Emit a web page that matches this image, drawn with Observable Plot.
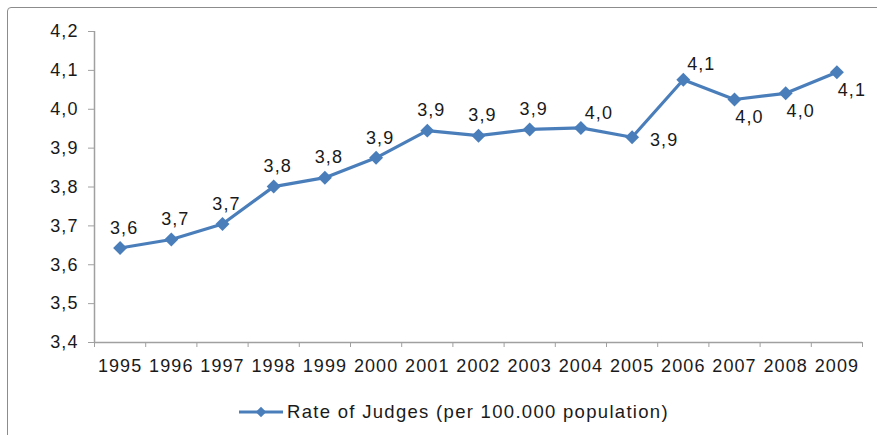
<!DOCTYPE html>
<html>
<head>
<meta charset="utf-8">
<script src="https://cdn.jsdelivr.net/npm/d3@7"></script>
<script src="https://cdn.jsdelivr.net/npm/@observablehq/plot@0.6"></script>
<style>
  html, body { margin: 0; padding: 0; background: #fff; }
  body { width: 877px; height: 435px; position: relative; overflow: hidden;
         font-family: "Liberation Sans", Arial, sans-serif; }
  #frame { position: absolute; left: 7px; top: 7px; width: 900px; height: 460px;
           border: 1.5px solid #8c8c8c; border-radius: 4px; box-sizing: border-box; }
  #chart { position: absolute; left: 0; top: 0; }
  #chart svg text { letter-spacing: 1.1px; }
  #legend { position: absolute; left: 238px; top: 401px; display: flex; align-items: center;
            font-size: 18.5px; letter-spacing: 1.3px; color: #1a1a1a; }
  #legend svg { margin-right: 3px; }
</style>
</head>
<body>
<div id="frame"></div>
<div id="chart"></div>
<div id="legend"></div>
<script>
// Rate of judges per 100.000 inhabitants, 1995–2009
const years = [1995, 1996, 1997, 1998, 1999, 2000, 2001, 2002, 2003, 2004, 2005, 2006, 2007, 2008, 2009];
const rates = [3.643, 3.665, 3.705, 3.801, 3.824, 3.875, 3.945, 3.932, 3.948, 3.952, 3.928, 4.076, 4.025, 4.041, 4.095];
const yTicks = [3.4, 3.5, 3.6, 3.7, 3.8, 3.9, 4.0, 4.1, 4.2];
const seriesName = "Rate of Judges (per 100.000 population)";

const blue = "#4a7ebb";
const axisGray = "#a0a0a0";

// Decimal comma, as in the source publication
const locale = d3.formatLocale({decimal: ",", thousands: ".", grouping: [3], currency: ["", ""]});
const fmt = locale.format(".1f");

const data = years.map((year, i) => ({year, rate: rates[i]}));

// Label placement: above the marker on the rising part, shifted right / below near the end
function placement(year) {
  if (year === 2005) return {dx: 32, dy: 3};
  if (year === 2004 || year === 2006) return {dx: 18, dy: -15};
  if (year >= 2007) return {dx: 15, dy: 18};
  return {dx: 4, dy: -20};
}
const groups = {};
for (const d of data) {
  const p = placement(d.year);
  const key = p.dx + "_" + p.dy;
  (groups[key] ??= {p, rows: []}).rows.push(d);
}
const labelMarks = Object.values(groups).map(({p, rows}) =>
  Plot.text(rows, {x: "year", y: "rate", text: d => fmt(d.rate), dx: p.dx, dy: p.dy,
                   fontSize: 18, fill: "#1a1a1a"})
);

// Category boundaries for the x tick marks
const bounds = d3.range(years[0] - 0.5, years[years.length - 1] + 1, 1);

const chart = Plot.plot({
  width: 877,
  height: 380,
  marginLeft: 94,
  marginRight: 15,
  marginTop: 31,
  marginBottom: 38,
  style: {fontFamily: "'Liberation Sans', Arial, sans-serif", background: "transparent", color: "#1a1a1a"},
  x: {domain: [years[0] - 0.5, years[years.length - 1] + 0.5]},
  y: {domain: [yTicks[0], yTicks[yTicks.length - 1]]},
  marks: [
    Plot.ruleY([yTicks[0]], {stroke: axisGray, strokeWidth: 1.5}),
    Plot.ruleX([bounds[0]], {stroke: axisGray, strokeWidth: 1.5}),
    Plot.axisY({ticks: yTicks, tickFormat: fmt, tickSize: 6, tickPadding: 10, stroke: axisGray,
                fontSize: 18, label: null, fill: "#1a1a1a"}),
    Plot.axisX({ticks: bounds, tickSize: 5, tickFormat: () => "", stroke: axisGray, label: null}),
    Plot.axisX({ticks: years, tickSize: 0, tickPadding: 17, tickFormat: d => String(d),
                fontSize: 18, label: null, fill: "#1a1a1a"}),
    Plot.line(data, {x: "year", y: "rate", stroke: blue, strokeWidth: 3.2}),
    Plot.dot(data, {x: "year", y: "rate", symbol: "diamond2", r: 6.3, fill: blue, stroke: "none"}),
    ...labelMarks
  ]
});
document.getElementById("chart").appendChild(chart);

// Legend below the plot
const legend = document.getElementById("legend");
const key = d3.create("svg").attr("width", 46).attr("height", 20);
key.append("line").attr("x1", 1).attr("x2", 45).attr("y1", 10).attr("y2", 10)
   .attr("stroke", blue).attr("stroke-width", 3.2);
key.append("path").attr("transform", "translate(23,10)")
   .attr("d", d3.symbol(d3.symbolDiamond2, 70)()).attr("fill", blue);
legend.appendChild(key.node());
const label = document.createElement("span");
label.textContent = seriesName;
legend.appendChild(label);
</script>
</body>
</html>
